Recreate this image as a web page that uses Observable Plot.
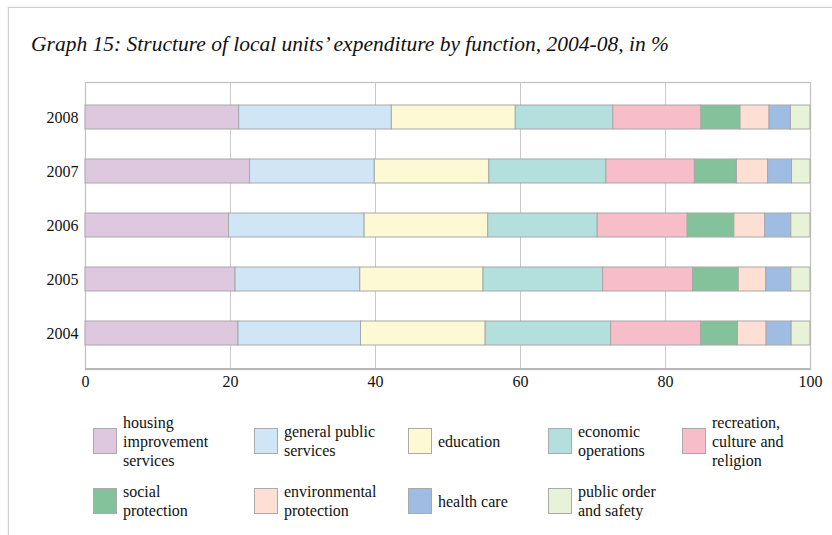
<!DOCTYPE html>
<html>
<head>
<meta charset="utf-8">
<script src="https://cdn.jsdelivr.net/npm/d3@7"></script>
<script src="https://cdn.jsdelivr.net/npm/@observablehq/plot@0.6"></script>
<style>
  html, body { margin: 0; padding: 0; background: #fff; }
  body { width: 832px; height: 535px; position: relative; overflow: hidden; font-family: "Liberation Serif", "DejaVu Serif", serif; }
  #frame { position: absolute; left: 8px; top: 7px; width: 840px; height: 540px; border-left: 1px solid #d0d0d0; border-top: 1px solid #d0d0d0; box-shadow: -1px -1px 2px rgba(0,0,0,0.06); }
  #title { position: absolute; left: 31px; top: 32px; font-family: "Liberation Serif", serif; font-style: italic; font-size: 21.5px; color: #111; white-space: nowrap; }
  #chart { position: absolute; left: 0; top: 0; }
  #chart svg text { font-family: "Liberation Serif", serif !important; }
  .leg { position: absolute; display: flex; align-items: center; font-family: "Liberation Serif", serif; font-size: 16px; line-height: 19px; color: #111; }
  .sw { width: 24px; height: 26px; box-sizing: border-box; border: 1px solid #aaa; margin-right: 6px; flex: none; }
</style>
</head>
<body>
<div id="frame"></div>
<div id="title">Graph 15: Structure of local units’ expenditure by function, 2004-08, in %</div>
<div id="chart"></div>
<div id="legend"></div>
<script>
const years = ["2008", "2007", "2006", "2005", "2004"];
const functions = [
  "housing improvement services",
  "general public services",
  "education",
  "economic operations",
  "recreation, culture and religion",
  "social protection",
  "environmental protection",
  "health care",
  "public order and safety"
];
const legendLabels = [
  ["housing", "improvement", "services"],
  ["general public", "services"],
  ["education"],
  ["economic", "operations"],
  ["recreation,", "culture and", "religion"],
  ["social", "protection"],
  ["environmental", "protection"],
  ["health care"],
  ["public order", "and safety"]
];
const colors = ["#dec8e0", "#d0e6f6", "#fdf9d5", "#b3dfdd", "#f7bec9", "#83c29a", "#fde0d3", "#9fbce2", "#e8f2d6"];
// shares (%) by function, per year
const v2008 = [21.2, 21.05, 17.1, 13.45, 12.15, 5.4, 4.0, 2.95, 2.7];
const v2007 = [22.7, 17.2, 15.8, 16.15, 12.2, 5.8, 4.3, 3.3, 2.55];
const v2006 = [19.8, 18.7, 17.05, 15.1, 12.4, 6.45, 4.25, 3.6, 2.65];
const v2005 = [20.7, 17.2, 17.0, 16.5, 12.4, 6.3, 3.8, 3.45, 2.65];
const v2004 = [21.1, 16.9, 17.2, 17.3, 12.4, 5.1, 3.95, 3.45, 2.6];
const xTicks = [0, 20, 40, 60, 80, 100];

const byYear = {"2008": v2008, "2007": v2007, "2006": v2006, "2005": v2005, "2004": v2004};
const data = [];
for (const y of years) {
  byYear[y].forEach((v, i) => data.push({year: y, fn: functions[i], value: v, order: i}));
}

const plot = Plot.plot({
  width: 832,
  height: 400,
  marginTop: 82,
  marginBottom: 31,
  marginLeft: 85,
  marginRight: 22,
  style: {fontFamily: "Liberation Serif, serif", fontSize: "16px", color: "#111", background: "transparent"},
  x: {domain: [0, 100], ticks: xTicks, label: null},
  y: {domain: years, paddingInner: 0.55, paddingOuter: 0.42, label: null},
  color: {domain: functions, range: colors},
  marks: [
    Plot.gridX(xTicks, {stroke: "#c9c9c9", strokeOpacity: 1, strokeWidth: 1}),
    Plot.frame({stroke: "#c4c4c4", strokeWidth: 1.3}),
    Plot.barX(data, Plot.stackX({x: "value", y: "year", fill: "fn", order: functions, stroke: "#a8a8a8", strokeWidth: 1, inset: 0})),
    Plot.axisX(xTicks, {tickSize: 0, tickPadding: 6, fontSize: 16, fill: "#111", fontFamily: "Liberation Serif, serif"}),
    Plot.axisY(years, {tickSize: 0, tickPadding: 7, fontSize: 16, fill: "#111", fontFamily: "Liberation Serif, serif"})
  ]
});
document.getElementById("chart").appendChild(plot);

// thicker bottom axis line, placed with the plot's own scales
const sx = plot.scale("x");
const svg = d3.select(plot);
svg.append("line")
  .attr("x1", sx.apply(0)).attr("x2", sx.apply(100))
  .attr("y1", 400 - 31).attr("y2", 400 - 31)
  .attr("stroke", "#b8b8b8").attr("stroke-width", 2.2);

// legend
const legX = [93, 254, 408, 548, 682];
const legRowTop = [428, 488];
const legend = document.getElementById("legend");
functions.forEach((f, i) => {
  const row = Math.floor(i / 5), col = i % 5;
  const d = document.createElement("div");
  d.className = "leg";
  d.style.left = legX[col] + "px";
  d.style.top = (legRowTop[row] - 20) + "px";
  d.style.height = "66px";
  const sw = document.createElement("div");
  sw.className = "sw";
  sw.style.background = colors[i];
  const t = document.createElement("div");
  t.innerHTML = legendLabels[i].join("<br>");
  d.appendChild(sw); d.appendChild(t);
  legend.appendChild(d);
});
</script>
</body>
</html>
